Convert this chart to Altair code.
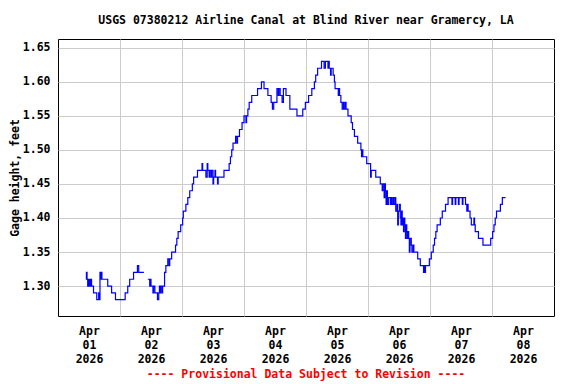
import altair as alt
import pandas as pd

TITLE = "USGS 07380212 Airline Canal at Blind River near Gramercy, LA"
FOOTER = "---- Provisional Data Subject to Revision ----"
Y_TITLE = "Gage height, feet"

# (hour of day, gage height in feet) change points
apr01 = [(10.75, 1.31), (11.0, 1.32), (11.25, 1.31), (11.5, 1.30), (11.75, 1.31), (12.0, 1.30),
         (12.25, 1.31), (12.5, 1.30), (12.75, 1.31), (13.0, 1.30), (13.75, 1.29), (15.0, 1.28),
         (15.75, 1.29), (16.0, 1.28), (16.25, 1.32), (16.5, 1.31), (16.75, 1.32), (17.0, 1.31),
         (19.25, 1.30), (20.75, 1.29), (22.25, 1.28)]
apr02_am = [(2.0, 1.29), (3.0, 1.30), (3.75, 1.31), (5.25, 1.32), (6.75, 1.33), (7.25, 1.32),
            (9.25, 1.32)]
apr02_pm = [(10.75, 1.31), (11.5, 1.30), (11.75, 1.31), (12.0, 1.30), (12.75, 1.29), (13.0, 1.30),
            (13.5, 1.29), (14.5, 1.28), (15.0, 1.29), (15.25, 1.30), (15.5, 1.29), (15.75, 1.30),
            (16.25, 1.29), (16.5, 1.30), (17.25, 1.32), (17.75, 1.33), (18.5, 1.34), (19.0, 1.33),
            (19.25, 1.34), (20.0, 1.35), (21.5, 1.36), (22.0, 1.37), (22.5, 1.38), (23.5, 1.39)]
apr03 = [(0.25, 1.40), (0.5, 1.41), (1.5, 1.42), (2.25, 1.43), (3.0, 1.44), (4.0, 1.45),
         (4.5, 1.46), (6.0, 1.47), (7.75, 1.48), (8.0, 1.47), (9.25, 1.46), (9.75, 1.48),
         (10.0, 1.47), (10.5, 1.46), (10.75, 1.47), (11.25, 1.46), (11.5, 1.47), (12.0, 1.45),
         (12.25, 1.46), (12.75, 1.47), (13.0, 1.46), (13.75, 1.45), (14.0, 1.46), (16.25, 1.47),
         (18.25, 1.48), (18.75, 1.49), (19.25, 1.50), (19.75, 1.51), (20.75, 1.52), (21.25, 1.51),
         (21.5, 1.52), (22.25, 1.53), (23.25, 1.54)]
apr04 = [(0.0, 1.55), (0.75, 1.54), (1.0, 1.55), (1.5, 1.56), (2.0, 1.57), (3.0, 1.58),
         (5.25, 1.59), (6.75, 1.60), (7.75, 1.59), (9.25, 1.58), (10.5, 1.57), (11.0, 1.56),
         (11.5, 1.57), (12.75, 1.59), (13.25, 1.58), (13.5, 1.59), (14.0, 1.58), (14.75, 1.57),
         (15.25, 1.59), (16.25, 1.58), (17.75, 1.56), (20.5, 1.55), (22.75, 1.56), (23.75, 1.57)]
apr05 = [(1.0, 1.58), (2.25, 1.59), (3.25, 1.60), (3.75, 1.61), (4.5, 1.62), (6.0, 1.63),
         (7.0, 1.62), (7.5, 1.63), (8.5, 1.62), (8.75, 1.63), (9.0, 1.62), (9.5, 1.61),
         (9.75, 1.62), (10.5, 1.61), (11.0, 1.60), (11.25, 1.59), (12.5, 1.58), (12.75, 1.59),
         (13.0, 1.58), (13.5, 1.57), (14.0, 1.56), (14.5, 1.57), (14.75, 1.56), (15.25, 1.57),
         (15.5, 1.56), (16.25, 1.55), (17.5, 1.54), (18.0, 1.53), (18.75, 1.52), (20.0, 1.51),
         (21.25, 1.50), (21.5, 1.49), (21.75, 1.50), (22.0, 1.49), (23.5, 1.48)]
apr06 = [(1.0, 1.46), (1.25, 1.47), (3.0, 1.46), (4.75, 1.45), (5.5, 1.44), (5.75, 1.45),
         (6.25, 1.43), (6.5, 1.45), (6.75, 1.44), (7.0, 1.42), (7.25, 1.44), (7.5, 1.42),
         (8.0, 1.43), (8.75, 1.42), (9.0, 1.43), (9.25, 1.42), (9.75, 1.43), (10.0, 1.42),
         (10.5, 1.43), (10.75, 1.41), (11.25, 1.42), (11.5, 1.39), (11.75, 1.41), (12.25, 1.42),
         (12.5, 1.40), (12.75, 1.39), (13.0, 1.41), (13.25, 1.39), (13.5, 1.40), (13.75, 1.38),
         (14.0, 1.40), (14.25, 1.39), (14.5, 1.37), (14.75, 1.39), (15.0, 1.38), (15.25, 1.37),
         (15.5, 1.38), (15.75, 1.37), (16.0, 1.35), (16.25, 1.37), (16.75, 1.36), (17.0, 1.35),
         (17.5, 1.36), (17.75, 1.35), (19.25, 1.34), (20.25, 1.33), (21.5, 1.32), (21.75, 1.33),
         (22.0, 1.32), (22.25, 1.33), (23.75, 1.34)]
apr07 = [(0.5, 1.35), (1.25, 1.36), (1.75, 1.37), (2.25, 1.38), (2.75, 1.39), (4.0, 1.40),
         (4.75, 1.41), (6.0, 1.42), (7.0, 1.43), (8.5, 1.42), (8.75, 1.43), (9.75, 1.42),
         (10.0, 1.43), (11.0, 1.42), (11.25, 1.43), (12.5, 1.42), (12.75, 1.43), (13.75, 1.42),
         (14.25, 1.41), (14.5, 1.42), (14.75, 1.41), (15.5, 1.40), (16.0, 1.39), (17.0, 1.40),
         (17.25, 1.39), (17.5, 1.38), (18.75, 1.37), (20.5, 1.36), (23.5, 1.37)]
apr08 = [(0.25, 1.38), (0.75, 1.39), (1.25, 1.40), (1.75, 1.41), (3.25, 1.42), (4.0, 1.43),
         (5.25, 1.43)]

# (day, points, record segment) -- a gap in the record splits Apr 02
pieces = [("2026-04-01", apr01, 1), ("2026-04-02", apr02_am, 1),
          ("2026-04-02", apr02_pm, 2), ("2026-04-03", apr03, 2), ("2026-04-04", apr04, 2),
          ("2026-04-05", apr05, 2), ("2026-04-06", apr06, 2), ("2026-04-07", apr07, 2),
          ("2026-04-08", apr08, 2)]


def ms(day, hour=0.0):
    ts = pd.Timestamp(day, tz="UTC") + pd.Timedelta(hours=hour)
    return int(ts.timestamp() * 1000)


rows = []
for day, pts, seg in pieces:
    for hr, v in pts:
        rows.append({"time": ms(day, hr), "stage": v, "seg": seg})
df = pd.DataFrame(rows)

day_names = [f"2026-04-0{d}" for d in range(1, 10)]
midnights = [ms(d) for d in day_names[1:8]]
noons = [ms(d, 12) for d in day_names[:8]]
tick_vals = sorted(midnights + noons)

W, H = 496, 277
MONO = "DejaVu Sans Mono"
FS = 11.5

x_axis = alt.Axis(
    values=tick_vals, title=None, ticks=False, domain=False, labelOverlap=False,
    labelExpr="utchours(datum.value) == 12 ? [utcFormat(datum.value, '%b'), utcFormat(datum.value, '%d'), utcFormat(datum.value, '%Y')] : ''",
    labelFont=MONO, labelFontWeight="bold", labelFontSize=FS, labelColor="black",
    labelBaseline="top", labelLineHeight=14, labelPadding=9,
    gridColor="#cccccc", gridWidth=1,
    gridOpacity={"condition": {"test": "utchours(datum.value) == 0", "value": 1}, "value": 0},
)
y_axis = alt.Axis(
    values=[1.30, 1.35, 1.40, 1.45, 1.50, 1.55, 1.60, 1.65], format=".2f",
    title=Y_TITLE, titleFont=MONO, titleFontSize=FS, titleFontWeight="bold", titleColor="black",
    titlePadding=2, ticks=False, domain=False,
    labelFont=MONO, labelFontWeight="bold", labelFontSize=FS, labelColor="black", labelPadding=8,
    gridColor="#cccccc", gridWidth=1,
)

line = alt.Chart(df).mark_line(interpolate="step-after", color="#0000ff", strokeWidth=1.2).encode(
    x=alt.X("time:T", scale=alt.Scale(type="utc", domain=[ms("2026-04-01"), ms("2026-04-09")]), axis=x_axis),
    y=alt.Y("stage:Q", scale=alt.Scale(domain=[1.256, 1.663], nice=False, zero=False), axis=y_axis),
    detail="seg:N",
)

footer = alt.Chart(pd.DataFrame({"t": [FOOTER]})).mark_text(
    font=MONO, fontSize=FS, fontWeight="bold", color="red", baseline="middle", align="center"
).encode(text="t:N", x=alt.value(W / 2), y=alt.value(H + 59))

chart = alt.layer(line, footer).properties(
    width=W, height=H,
    title=alt.Title(TITLE, font=MONO, fontSize=FS, fontWeight="bold", color="black", anchor="middle", offset=13),
    autosize=alt.AutoSizeParams(type="none"),
    padding={"left": 50, "top": 31, "right": 14, "bottom": 70},
    background="white",
).configure_view(stroke="black", strokeWidth=1)

chart.save("out.html", embed_options={"renderer": "svg", "actions": False})
